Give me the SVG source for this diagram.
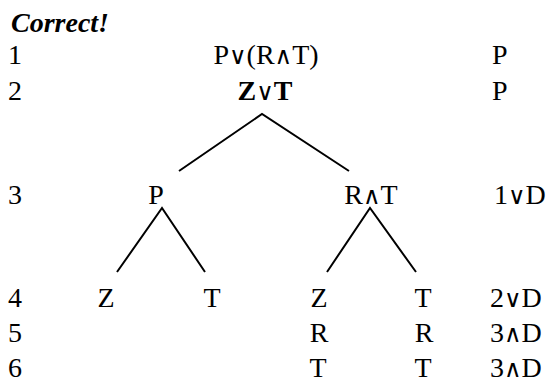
<svg xmlns="http://www.w3.org/2000/svg" width="550" height="384" viewBox="0 0 550 384">
<style>
text{font-family:"Liberation Serif","Times New Roman",serif;font-size:28px;fill:#000}
.c{text-anchor:middle}
.op{font-family:"DejaVu Serif",serif;font-size:24px;font-weight:normal}
.title{font-weight:bold;font-style:italic}
.edge{stroke:#000;stroke-width:2;fill:none}
</style>
<rect width="550" height="384" fill="#fff"/>
<text class="title" x="11" y="32">Correct!</text>
<g id="linenums">
<text x="8" y="64">1</text>
<text x="8" y="100">2</text>
<text x="8" y="204">3</text>
<text x="8" y="307">4</text>
<text x="8" y="342">5</text>
<text x="8" y="377">6</text>
</g>
<g id="justifications">
<text x="492" y="64">P</text>
<text x="492" y="100">P</text>
<text x="494" y="204">1<tspan class="op">∨</tspan>D</text>
<text x="490" y="307">2<tspan class="op">∨</tspan>D</text>
<text x="490" y="342">3<tspan class="op">∧</tspan>D</text>
<text x="490" y="377">3<tspan class="op">∧</tspan>D</text>
</g>
<g id="n1"><text class="c" x="266" y="64">P<tspan class="op">∨</tspan>(R<tspan class="op">∧</tspan>T)</text></g>
<g id="n2"><text class="c" x="265" y="100" font-weight="bold">Z<tspan class="op">∨</tspan>T</text></g>
<g id="n3a"><text class="c" x="156" y="204">P</text></g>
<g id="n3b"><text class="c" x="371" y="204">R<tspan class="op">∧</tspan>T</text></g>
<g id="n4a"><text class="c" x="106" y="307">Z</text></g>
<g id="n4b"><text class="c" x="212" y="307">T</text></g>
<g id="n4c"><text class="c" x="319" y="307">Z</text></g>
<g id="n4d"><text class="c" x="423" y="307">T</text></g>
<g id="n5c"><text class="c" x="319" y="342">R</text></g>
<g id="n5d"><text class="c" x="424" y="342">R</text></g>
<g id="n6c"><text class="c" x="318" y="377">T</text></g>
<g id="n6d"><text class="c" x="423" y="377">T</text></g>
<g id="connectors">
<path class="edge" d="M179 171 L262 114 L349 171"/>
<path class="edge" d="M117 272 L162 208 L205 272"/>
<path class="edge" d="M327 272 L370 208 L416 272"/>
</g>
</svg>
